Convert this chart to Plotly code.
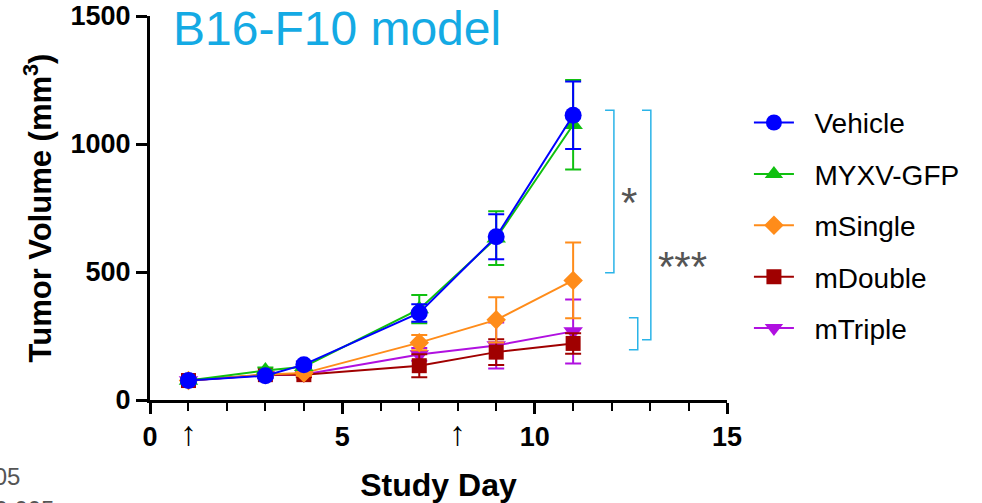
import plotly.graph_objects as go

days = [1, 3, 4, 7, 9, 11]
names = ["Vehicle", "MYXV-GFP", "mSingle", "mDouble", "mTriple"]
vehicle = [76, 95, 138, 340, 638, 1112]
vehicle_err = [8, 10, 12, 34, 88, 132]
myxv = [76, 115, 130, 355, 632, 1075]
myxv_err = [8, 12, 12, 55, 105, 175]
msingle = [76, 100, 105, 224, 313, 467]
msingle_err = [8, 10, 10, 30, 88, 148]
mdouble = [76, 99, 99, 134, 187, 221]
mdouble_err = [8, 10, 10, 45, 50, 40]
mtriple = [76, 97, 100, 178, 213, 268]
mtriple_err = [8, 10, 10, 25, 90, 125]

colors = ["#0000ff", "#10c010", "#ff8c1a", "#a00000", "#b010e0"]
symbols = ["circle", "triangle-up", "diamond", "square", "triangle-down"]
msizes = [17, 17, 15, 15, 17]
values = [vehicle, myxv, msingle, mdouble, mtriple]
errs = [vehicle_err, myxv_err, msingle_err, mdouble_err, mtriple_err]

fig = go.Figure()
for i in reversed(range(5)):
    fig.add_trace(go.Scatter(
        x=days, y=values[i], name="\u00a0\u00a0" + names[i], mode="lines+markers",
        line=dict(color=colors[i], width=2),
        marker=dict(symbol=symbols[i], size=msizes[i], color=colors[i]),
        error_y=dict(type="data", array=errs[i], color=colors[i], thickness=2, width=8),
        legendrank=i + 1, legendgroup=names[i], cliponaxis=False,
    ))

fig.update_layout(
    width=982, height=503,
    margin=dict(l=150, r=255, t=16, b=103, autoexpand=False),
    plot_bgcolor="white", paper_bgcolor="white",
    font=dict(family="Arial, Liberation Sans", color="black"),
    showlegend=True,
    legend=dict(x=1.038, y=0.787, xanchor="left", yanchor="top",
                font=dict(size=28, color="black"), tracegroupgap=12,
                bgcolor="rgba(0,0,0,0)", itemwidth=40),
)
fig.update_xaxes(
    range=[0, 15], tickvals=[0, 5, 10, 15], showline=True, linecolor="black", linewidth=3,
    ticks="outside", ticklen=11, tickwidth=3, tickcolor="black", showgrid=False, zeroline=False,
    tickfont=dict(size=27, weight="bold", color="black"), automargin=False,
    minor=dict(dtick=1, ticks="outside", ticklen=8, tickwidth=2, tickcolor="black", showgrid=False),
    title=dict(text="Study Day", font=dict(size=32, weight="bold"), standoff=24),
)
fig.update_yaxes(
    range=[0, 1500], tickvals=[0, 500, 1000, 1500], showline=True, linecolor="black", linewidth=3,
    ticks="outside", ticklen=11, tickwidth=3, tickcolor="black", showgrid=False, zeroline=False,
    tickfont=dict(size=27, weight="bold", color="black"), automargin=False,
    title=dict(text="Tumor Volume (mm<sup>3</sup>)", font=dict(size=31, weight="bold"), standoff=10),
)

# title
fig.add_annotation(text="B16-F10 model", xref="x", yref="paper", x=0.55, y=1.042,
                   xanchor="left", yanchor="top", showarrow=False,
                   font=dict(size=48, color="#14aae4"))
# arrows (dosing days)
for d in [1, 8]:
    fig.add_annotation(text="↑", xref="x", yref="paper", x=d, y=-0.03, xanchor="center",
                       yanchor="top", showarrow=False, font=dict(size=34, color="black"))

# significance brackets
bc = "#2bb4e8"
brackets = [(12.06, 11.83, 1132, 497), (13.02, 12.79, 1132, 235), (12.68, 12.45, 321, 196)]
for xv, xe, yt, yb in brackets:
    fig.add_shape(type="path", xref="x", yref="y",
                  path=f"M {xe},{yt} L {xv},{yt} L {xv},{yb} L {xe},{yb}",
                  line=dict(color=bc, width=1.5))
fig.add_annotation(text="*", xref="x", yref="y", x=12.45, y=770, showarrow=False,
                   font=dict(size=42, color="#555555"))
fig.add_annotation(text="***", xref="x", yref="y", x=13.85, y=520, showarrow=False,
                   font=dict(size=42, color="#555555"))
# partially visible footnotes
fig.add_annotation(text="*p<0.05", xref="paper", yref="paper", x=-0.222, y=-0.2,
                   xanchor="right", yanchor="middle", showarrow=False,
                   font=dict(size=24, color="#555555"))
fig.add_annotation(text="***p<0.005", xref="paper", yref="paper", x=-0.163, y=-0.285,
                   xanchor="right", yanchor="middle", showarrow=False,
                   font=dict(size=24, color="#555555"))

fig.write_html("out.html")
